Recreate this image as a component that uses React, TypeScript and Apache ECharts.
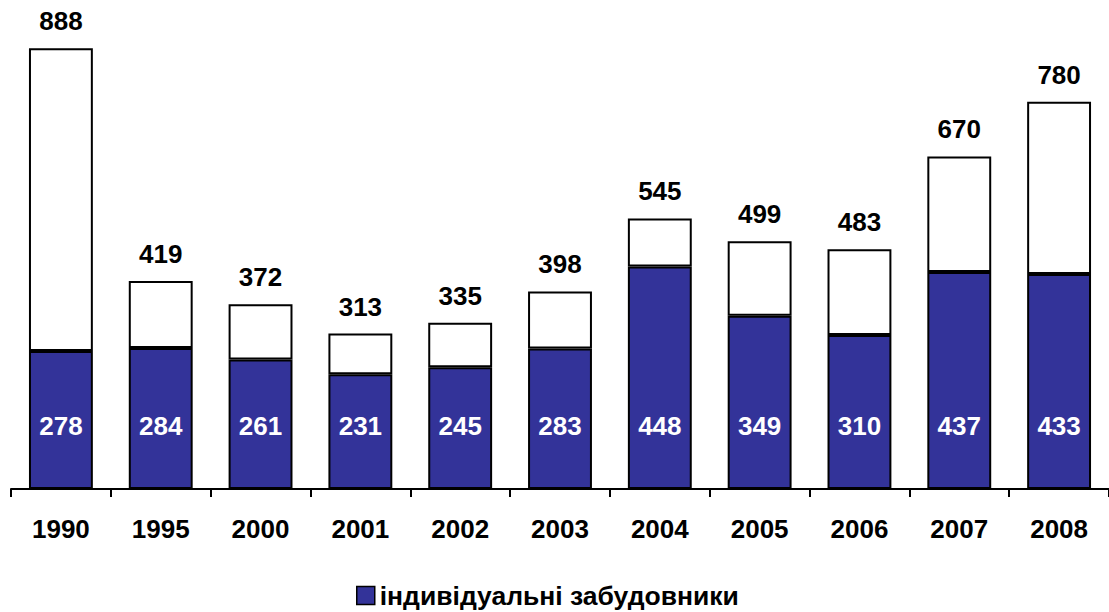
import React, { useEffect, useRef } from "react";
import * as echarts from "echarts";

const categories = ["1990", "1995", "2000", "2001", "2002", "2003", "2004", "2005", "2006", "2007", "2008"];
const individual = [278, 284, 261, 231, 245, 283, 448, 349, 310, 437, 433];
const totals = [888, 419, 372, 313, 335, 398, 545, 499, 483, 670, 780];
const legendName = "індивідуальні забудовники";

const FONT = "Liberation Sans, Arial, sans-serif";

export default function App() {
  const ref = useRef<HTMLDivElement>(null);
  useEffect(() => {
    if (!ref.current) return;
    const chart = echarts.init(ref.current, undefined, { renderer: "svg" });
    const rest = totals.map((t, i) => t - individual[i]);
    chart.setOption({
      animation: false,
      grid: { left: 11, top: 0, width: 1100, height: 489, containLabel: false },
      legend: {
        data: [{ name: legendName, icon: "rect" }],
        left: 356,
        top: 582,
        padding: 0,
        itemWidth: 18,
        itemHeight: 18,
        itemStyle: { borderColor: "#000", borderWidth: 1.5 },
        textStyle: { fontFamily: FONT, fontWeight: "bold", fontSize: 26.5, color: "#000" },
        selectedMode: false,
      },
      xAxis: {
        type: "category",
        data: categories,
        axisLine: { lineStyle: { color: "#000", width: 2 } },
        axisTick: { show: true, length: 8, lineStyle: { color: "#000", width: 2 } },
        axisLabel: { fontFamily: FONT, fontWeight: "bold", fontSize: 26, color: "#000", margin: 27 },
      },
      yAxis: {
        type: "value",
        min: 0,
        max: 985,
        show: false,
        splitLine: { show: false },
      },
      series: [
        {
          name: legendName,
          type: "bar",
          stack: "a",
          data: individual,
          barWidth: "64%",
          itemStyle: { color: "#333399", borderColor: "#000", borderWidth: 2 },
          label: {
            show: true,
            position: "insideBottom",
            distance: 50,
            fontFamily: FONT,
            fontWeight: "bold",
            fontSize: 26,
            color: "#fff",
          },
        },
        {
          name: "rest",
          type: "bar",
          stack: "a",
          data: rest,
          barWidth: "64%",
          itemStyle: { color: "#fff", borderColor: "#000", borderWidth: 2 },
          label: {
            show: true,
            position: "top",
            distance: 14,
            fontFamily: FONT,
            fontWeight: "bold",
            fontSize: 26,
            color: "#000",
            formatter: (p: any) => String(totals[p.dataIndex]),
          },
        },
      ],
    });
    return () => chart.dispose();
  }, []);
  return <div ref={ref} style={{ position: "absolute", left: 0, top: 0, width: 1109, height: 612 }} />;
}
